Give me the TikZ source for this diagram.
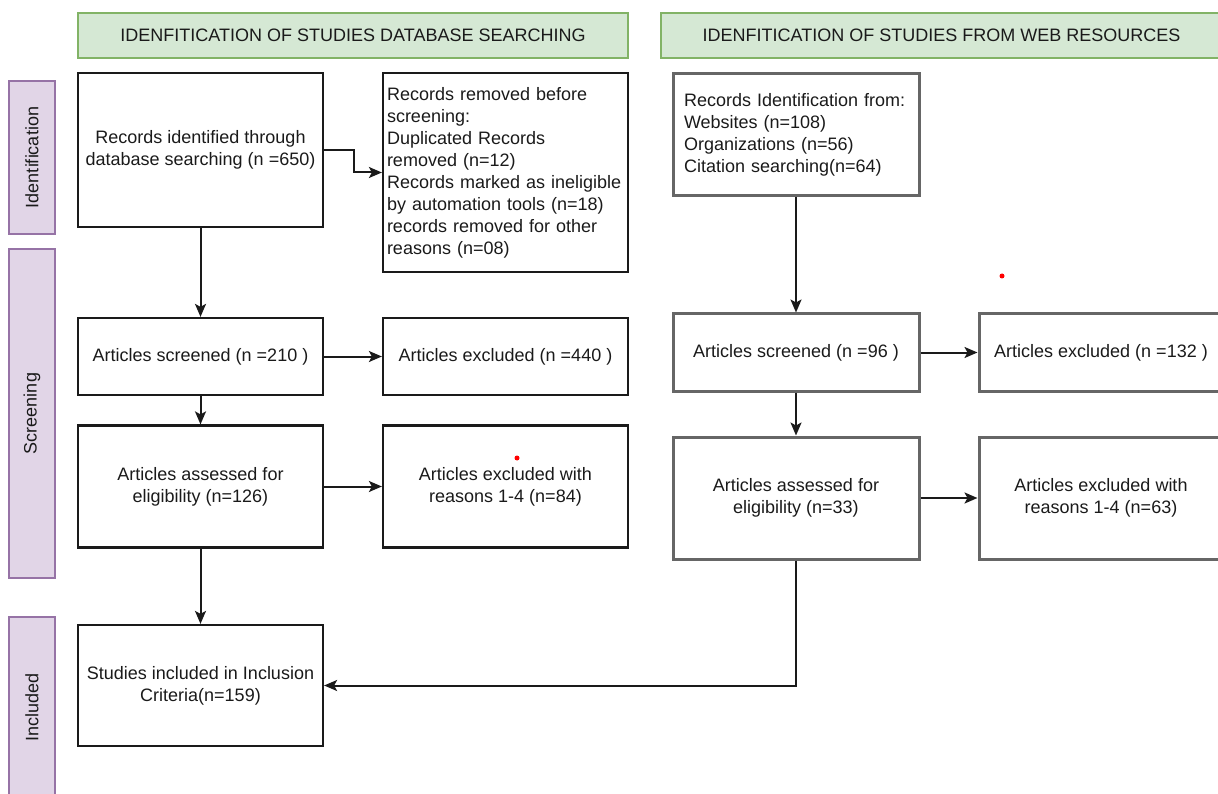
\documentclass[tikz,border=0pt]{standalone}
\usepackage{fontspec}
\setmainfont{Liberation Sans}
\usetikzlibrary{arrows.meta}
\definecolor{hdrfill}{HTML}{D5E8D4}
\definecolor{hdrline}{HTML}{82B366}
\definecolor{phasefill}{HTML}{E1D5E7}
\definecolor{phaseline}{HTML}{9673A6}
\definecolor{boxgray}{HTML}{666666}
\definecolor{ink}{HTML}{1A1A1A}
\begin{document}
\begin{tikzpicture}[x=1pt,y=-1pt,
  font=\fontsize{18}{22}\selectfont, text=ink,
  header/.style={draw=hdrline, fill=hdrfill, line width=2pt, minimum height=45pt, inner sep=0pt},
  phase/.style={draw=phaseline, fill=phasefill, line width=2pt, inner sep=0pt, rotate=90, minimum height=46pt},
  boxL/.style={draw=ink, line width=2.2pt, inner sep=0pt, align=center, minimum width=245pt},
  boxR/.style={draw=boxgray, line width=3pt, inner sep=0pt, align=center, minimum width=246pt},
  link/.style={draw=ink, line width=2pt, -{Stealth[length=13pt,width=11pt,inset=3pt]}},
  speck/.style={fill=red, draw=none}
]
\useasboundingbox (0,0) rectangle (1218,794);
\clip (0,0) rectangle (1218,794);

% column headers
\node[header, minimum width=550pt] (hdrL) at (353,35.5) {IDENFITICATION OF STUDIES DATABASE SEARCHING};
\node[header, minimum width=561pt] (hdrR) at (941.5,35.5) {IDENFITICATION OF STUDIES FROM WEB RESOURCES};

% phase labels
\node[phase, minimum width=153pt] (pid) at (32,157.5) {Identification};
\node[phase, minimum width=329pt] (pscr) at (32,413.5) {Screening};
\node[phase, minimum width=180pt] (pinc) at (32,707) {Included};

% database searching column
\node[boxL, minimum height=154pt] (rid) at (200.5,150) {Records identified through\\database searching (n =650)};
\node[boxL, minimum height=199pt, text width=237pt, inner xsep=4pt, align=left] (rrm) at (505.5,172.5)
  {Records removed before\\screening:\\Duplicated Records\\removed (n=12)\\Records marked as ineligible\\by automation tools (n=18)\\records removed for other\\reasons (n=08)};
\node[boxL, minimum height=77pt] (scrL) at (200.5,356.5) {Articles screened (n =210 )};
\node[boxL, minimum height=77pt] (excL) at (505.5,356.5) {Articles excluded (n =440 )};
\node[boxL, minimum height=122pt] (eliL) at (200.5,486.5) {Articles assessed for\\eligibility (n=126)};
\node[boxL, minimum height=122pt] (exrL) at (505.5,486.5) {Articles excluded with\\reasons 1-4 (n=84)};
\node[boxL, minimum height=121pt] (inc) at (200.5,685.5) {Studies included in Inclusion\\Criteria(n=159)};

% web resources column
\node[boxR, minimum height=122pt, text width=224pt, inner xsep=11pt, align=left] (rwe) at (796,134.5)
  {Records Identification from:\\Websites (n=108)\\Organizations (n=56)\\Citation searching(n=64)};
\node[boxR, minimum height=77pt] (scrR) at (796,352.5) {Articles screened (n =96 )};
\node[boxR, minimum height=77pt, minimum width=244pt] (excR) at (1101,352.5) {Articles excluded (n =132 )};
\node[boxR, minimum height=122pt] (eliR) at (796,498) {Articles assessed for\\eligibility (n=33)};
\node[boxR, minimum height=122pt, minimum width=244pt] (exrR) at (1101,498) {Articles excluded with\\reasons 1-4 (n=63)};

% connectors
\draw[link] (rid.east) -- ++(30,0) |- (rrm.west);
\draw[link] (rid.south) -- (scrL.north);
\draw[link] (scrL.east) -- (excL.west);
\draw[link] (scrL.south) -- (eliL.north);
\draw[link] (eliL.east) -- (exrL.west);
\draw[link] (eliL.south) -- (inc.north);
\draw[link] (rwe.south) -- (scrR.north);
\draw[link] (scrR.east) -- (excR.west);
\draw[link] (scrR.south) -- (eliR.north);
\draw[link] (eliR.east) -- (exrR.west);
\draw[link] (eliR.south) |- (inc.east);

% stray marks
\fill[speck] (1002,276) circle (2.5pt);
\fill[speck] (517,458) circle (2.5pt);
\end{tikzpicture}
\end{document}
